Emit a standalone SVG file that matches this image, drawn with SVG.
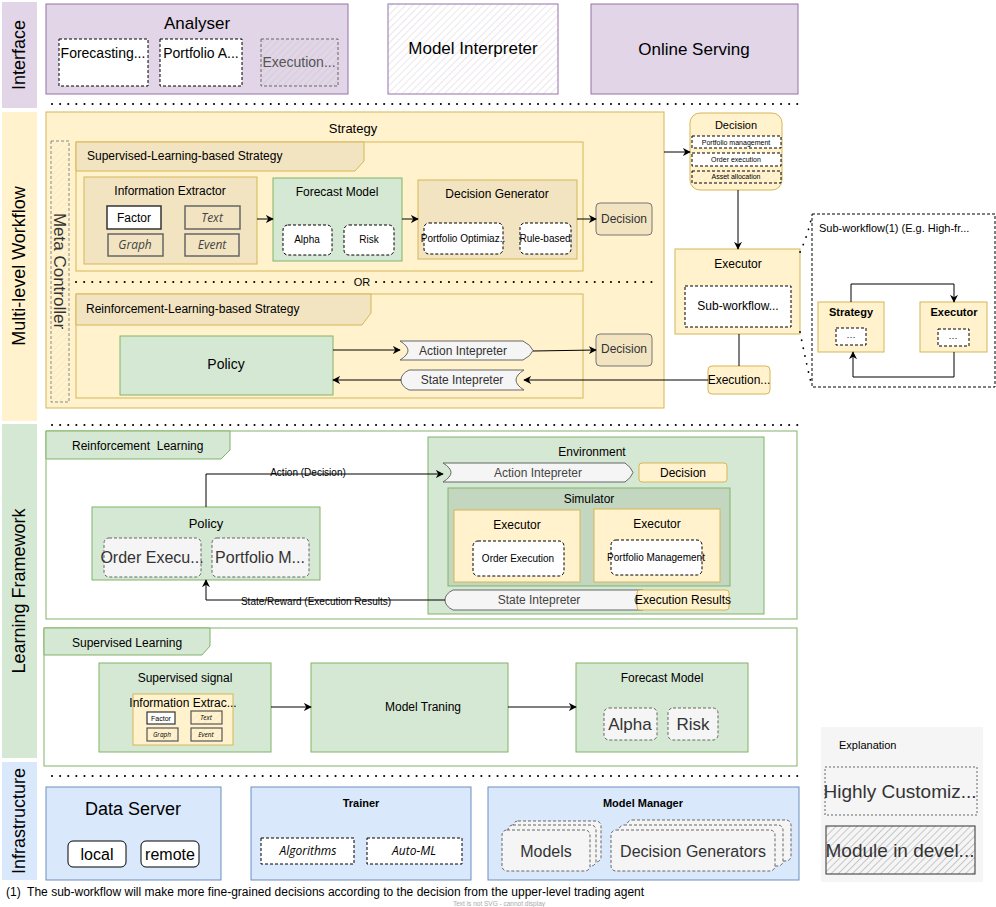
<svg xmlns="http://www.w3.org/2000/svg" width="996" height="907" viewBox="0 0 996 907">
<defs>
<pattern id="hatch" width="5" height="5" patternUnits="userSpaceOnUse" patternTransform="rotate(45)">
<line x1="0" y1="0" x2="0" y2="5" stroke="#c8c8c8" stroke-width="1"/>
</pattern>
<pattern id="hatchP" width="5" height="5" patternUnits="userSpaceOnUse" patternTransform="rotate(45)">
<line x1="0" y1="0" x2="0" y2="5" stroke="#d8d0dc" stroke-width="1"/>
</pattern>
<pattern id="hatchY" width="5" height="5" patternUnits="userSpaceOnUse" patternTransform="rotate(45)">
<line x1="0" y1="0" x2="0" y2="5" stroke="#f3e6c8" stroke-width="1.2"/>
</pattern>
<pattern id="hatchD" width="5" height="5" patternUnits="userSpaceOnUse" patternTransform="rotate(45)">
<line x1="0" y1="0" x2="0" y2="5" stroke="#999" stroke-width="1"/>
</pattern>
<marker id="arr" viewBox="0 0 10 10" refX="9" refY="5" markerWidth="8" markerHeight="8" orient="auto" markerUnits="userSpaceOnUse">
<path d="M0,0 L10,5 L0,10 L3,5 Z" fill="#000"/>
</marker>
</defs>
<style>
text{font-family:"Liberation Sans",Arial,sans-serif;fill:#000}
.c{text-anchor:middle}
.pur{fill:#e1d5e7;stroke:#9673a6}
.yel{fill:#fff2cc;stroke:#d6b656}
.yd{fill:#f2e4c0;stroke:#d6b656}
.grn{fill:#d5e8d4;stroke:#82b366}
.blu{fill:#dae8fc;stroke:#6c8ebf}
.dw{fill:#fff;stroke:#000;stroke-dasharray:3 2}
.dg{fill:#f5f5f5;stroke:#666;stroke-dasharray:3 2}
.it{font-family:"Open Sans","DejaVu Sans",sans-serif;font-style:italic}
.dot{stroke:#000;stroke-width:2;stroke-dasharray:0.1 8;stroke-linecap:round;fill:none}
.ln{stroke:#000;stroke-width:1;fill:none}
.interp{fill:#f5f5f5;stroke:#666}
</style>

<!-- layer bars -->
<g id="layers">
<rect x="2" y="2" width="35" height="106" fill="#e1d5e7"/>
<rect x="2" y="112" width="35" height="309" fill="#fff2cc"/>
<rect x="2" y="424" width="35" height="334" fill="#d5e8d4"/>
<rect x="2" y="762" width="35" height="118" fill="#dae8fc"/>
<text class="c" font-size="18" transform="translate(25,55) rotate(-90)">Interface</text>
<text class="c" font-size="18" transform="translate(25,266) rotate(-90)">Multi-level Workflow</text>
<text class="c" font-size="18" transform="translate(25,591) rotate(-90)">Learning Framework</text>
<text class="c" font-size="18" transform="translate(25,821) rotate(-90)">Infrastructure</text>
</g>

<g id="separators">
<line class="dot" x1="52" y1="104" x2="798" y2="104"/>
<line class="dot" x1="52" y1="425" x2="798" y2="425"/>
<line class="dot" x1="52" y1="776" x2="798" y2="776"/>
</g>

<!-- Interface -->
<g id="analyser">
<rect class="pur" x="46" y="4" width="302" height="90"/>
<text class="c" x="197" y="29" font-size="17">Analyser</text>
<rect class="dw" x="59" y="39" width="89" height="47"/>
<text class="c" x="103" y="58" font-size="14">Forecasting...</text>
<rect class="dw" x="160" y="39" width="82" height="47"/>
<text class="c" x="201" y="58" font-size="14">Portfolio A...</text>
<rect x="261" y="39" width="77" height="47" fill="url(#hatch)" stroke="#666" stroke-dasharray="3 2"/>
<text class="c" x="299" y="67" font-size="14" style="fill:#555">Execution...</text>
</g>
<g id="model-interpreter">
<rect x="388" y="4" width="170" height="90" fill="url(#hatchP)" stroke="#9673a6"/>
<text class="c" x="473" y="54" font-size="17">Model Interpreter</text>
</g>
<g id="online-serving">
<rect class="pur" x="591" y="4" width="207" height="90"/>
<text class="c" x="694" y="55" font-size="17">Online Serving</text>
</g>

<!-- Strategy -->
<g id="strategy">
<rect class="yel" x="46" y="112" width="618" height="296"/>
<text class="c" x="353" y="133" font-size="13">Strategy</text>
</g>
<g id="or-separator">
<line class="dot" x1="76" y1="282" x2="350" y2="282"/>
<line class="dot" x1="376" y1="282" x2="656" y2="282"/>
<text class="c" x="362" y="286" font-size="11">OR</text>
</g>
<g id="meta-controller">
<rect x="51" y="141" width="18" height="261" fill="url(#hatchY)" stroke="#888" stroke-dasharray="3 2"/>
<text class="c" font-size="17" style="fill:#333" transform="translate(54,271) rotate(90)">Meta Controller</text>
</g>
<g id="sl-strategy">
<rect class="yel" x="76" y="142" width="507" height="129"/>
<path d="M76,142 H364 V161 L355,171 H76 Z" fill="#f2e4c0" stroke="#d6b656"/>
<text x="87" y="160" font-size="12">Supervised-Learning-based Strategy</text>
</g>
<g id="info-extractor">
<rect class="yd" x="84" y="177" width="173" height="87"/>
<text class="c" x="170" y="195" font-size="12">Information Extractor</text>
<rect x="107" y="206" width="54" height="23" fill="#fff" stroke="#333" stroke-width="1.5"/>
<text class="c" x="134" y="222" font-size="12">Factor</text>
<rect x="185" y="206" width="55" height="23" fill="url(#hatchY)" stroke="#666" stroke-width="1.5"/>
<text class="c it" x="212" y="222" font-size="12" style="fill:#444">Text</text>
<rect x="108" y="234" width="55" height="22" fill="url(#hatchY)" stroke="#666" stroke-width="1.5"/>
<text class="c it" x="135" y="249" font-size="12" style="fill:#444">Graph</text>
<rect x="185" y="234" width="54" height="22" fill="url(#hatchY)" stroke="#666" stroke-width="1.5"/>
<text class="c it" x="212" y="249" font-size="12" style="fill:#444">Event</text>
</g>
<g id="forecast-model">
<rect class="grn" x="273" y="178" width="129" height="83"/>
<text class="c" x="337" y="196" font-size="12">Forecast Model</text>
<rect class="dw" x="283" y="225" width="49" height="30" rx="5"/>
<text class="c" x="307" y="243" font-size="10">Alpha</text>
<rect class="dw" x="344" y="225" width="50" height="30" rx="5"/>
<text class="c" x="369" y="243" font-size="10">Risk</text>
</g>
<g id="decision-generator">
<rect class="yd" x="418" y="180" width="159" height="79"/>
<text class="c" x="497" y="198" font-size="12">Decision Generator</text>
<rect class="dw" x="424" y="223" width="79" height="31" rx="5"/>
<text class="c" x="463" y="242" font-size="10">Portfolio Optimiaz..</text>
<rect class="dw" x="520" y="223" width="51" height="31" rx="5"/>
<text class="c" x="545" y="242" font-size="10">Rule-based</text>
</g>
<g id="decision-sl">
<rect x="596" y="203" width="56" height="32" rx="4" fill="#f2e4c0" stroke="#777"/>
<text class="c" x="624" y="223" font-size="12" style="fill:#333">Decision</text>
</g>

<g id="rl-strategy">
<rect class="yel" x="76" y="294" width="507" height="104"/>
<path d="M76,294 H371 V313 L362,325 H76 Z" fill="#f2e4c0" stroke="#d6b656"/>
<text x="86" y="313" font-size="12">Reinforcement-Learning-based Strategy</text>
</g>
<g id="policy-rl">
<rect class="grn" x="120" y="336" width="213" height="59"/>
<text class="c" x="226" y="369" font-size="14">Policy</text>
</g>
<g id="action-interp-rl">
<path class="interp" d="M400,341 H523 Q531,345 533,350.5 Q531,356 523,360 H400 Q408,355 408,350.5 Q408,346 400,341 Z"/>
<text class="c" x="463" y="355" font-size="12" style="fill:#333">Action Intepreter</text>
</g>
<g id="state-interp-rl">
<path class="interp" d="M409,370 H524 Q516,375 516,380 Q516,385 524,390 H409 Q401,386 401,380 Q401,374 409,370 Z"/>
<text class="c" x="462" y="384" font-size="12" style="fill:#333">State Intepreter</text>
</g>
<g id="decision-rl">
<rect x="596" y="334" width="56" height="32" rx="4" fill="#f2e4c0" stroke="#777"/>
<text class="c" x="624" y="353" font-size="12" style="fill:#333">Decision</text>
</g>

<g id="decision-top">
<rect class="yel" x="690" y="113" width="92" height="77" rx="10"/>
<text class="c" x="736" y="129" font-size="11">Decision</text>
<rect class="dw" x="692" y="136" width="89" height="12"/>
<text class="c" x="736" y="145" font-size="7">Portfolio management</text>
<rect class="dw" x="692" y="153" width="89" height="13"/>
<text class="c" x="736" y="162" font-size="7">Order execution</text>
<rect x="692" y="171" width="89" height="12" fill="url(#hatchY)" stroke="#000" stroke-dasharray="3 2"/>
<text class="c" x="736" y="179" font-size="7">Asset allocation</text>
</g>
<g id="executor-top">
<rect class="yel" x="675" y="249" width="125" height="85"/>
<text class="c" x="738" y="268" font-size="12">Executor</text>
<rect class="dw" x="685" y="286" width="106" height="41"/>
<text class="c" x="738" y="310" font-size="12">Sub-workflow...</text>
</g>
<g id="execution-top">
<rect class="yel" x="708" y="366" width="62" height="28" rx="4"/>
<text class="c" x="739" y="384" font-size="12">Execution...</text>
</g>

<g id="sub-workflow">
<rect x="812" y="214" width="183" height="173" fill="#fff" stroke="#000" stroke-dasharray="3 2"/>
<text x="819" y="232" font-size="11">Sub-workflow(1) (E.g. High-fr...</text>
<rect class="yel" x="818" y="302" width="66" height="50"/>
<text class="c" x="851" y="316" font-size="11" font-weight="bold">Strategy</text>
<rect class="dw" x="836" y="328" width="30" height="17"/>
<text class="c" x="851" y="340" font-size="9">···</text>
<rect class="yel" x="920" y="302" width="67" height="50"/>
<text class="c" x="954" y="316" font-size="11" font-weight="bold">Executor</text>
<rect class="dw" x="938" y="329" width="31" height="17"/>
<text class="c" x="953" y="341" font-size="9">···</text>
</g>

<!-- Learning framework -->
<g id="rl-frame">
<rect x="46" y="431" width="751" height="188" fill="#fff" stroke="#82b366"/>
<path d="M46,431 H230 V450 L221,459 H46 Z" fill="#d5e8d4" stroke="#82b366"/>
<text x="72" y="450" font-size="12" xml:space="preserve">Reinforcement  Learning</text>
</g>
<g id="policy-lf">
<rect class="grn" x="92" y="507" width="228" height="73"/>
<text class="c" x="206" y="528" font-size="13">Policy</text>
<rect class="dg" x="104" y="538" width="97" height="39" rx="5"/>
<text class="c" x="152" y="563" font-size="16" style="fill:#333">Order Execu...</text>
<rect class="dg" x="212" y="538" width="97" height="39" rx="5"/>
<text class="c" x="260" y="563" font-size="16" style="fill:#333">Portfolio M...</text>
</g>
<g id="environment">
<rect class="grn" x="428" y="437" width="336" height="177"/>
<text class="c" x="592" y="456" font-size="12">Environment</text>
<path class="interp" d="M443,463 H625 Q631,467 633,472.5 Q631,478 625,482 H443 Q451,477 451,472.5 Q451,468 443,463 Z"/>
<text class="c" x="538" y="477" font-size="12" style="fill:#444">Action Intepreter</text>
<rect class="yel" x="639" y="463" width="88" height="19" rx="3"/>
<text class="c" x="683" y="477" font-size="12">Decision</text>
<rect x="448" y="488" width="282" height="98" fill="#c3d7c0" stroke="#82b366"/>
<text class="c" x="589" y="503" font-size="12">Simulator</text>
<rect class="yel" x="454" y="510" width="126" height="72"/>
<text class="c" x="517" y="529" font-size="12">Executor</text>
<rect class="dw" x="473" y="541" width="91" height="35" rx="5"/>
<text class="c" x="518" y="562" font-size="10">Order Execution</text>
<rect class="yel" x="594" y="509" width="126" height="73"/>
<text class="c" x="657" y="528" font-size="12">Executor</text>
<rect class="dw" x="611" y="540" width="91" height="35" rx="5"/>
<text class="c" x="656" y="561" font-size="10">Portfolio Management</text>
<path class="interp" d="M453,590 H643 Q635,595 635,600 Q635,605 643,610 H453 Q445,606 445,600 Q445,594 453,590 Z"/>
<text class="c" x="539" y="604" font-size="12" style="fill:#444">State Intepreter</text>
<rect class="yel" x="637" y="590" width="92" height="20" rx="3"/>
<text class="c" x="683" y="604" font-size="12">Execution Results</text>
</g>

<g id="sl-frame">
<rect x="44" y="628" width="753" height="138" fill="#fff" stroke="#82b366"/>
<path d="M44,628 H210 V646 L202,655 H44 Z" fill="#d5e8d4" stroke="#82b366"/>
<text x="72" y="647" font-size="12">Supervised Learning</text>
</g>
<g id="supervised-signal">
<rect class="grn" x="99" y="663" width="172" height="89"/>
<text class="c" x="185" y="682" font-size="12">Supervised signal</text>
<rect class="yel" x="133" y="694" width="100" height="51"/>
<text class="c" x="183" y="707" font-size="12">Information Extrac...</text>
<rect x="147" y="712" width="28" height="12" fill="#fff" stroke="#333" stroke-width="1.2"/>
<text class="c" x="161" y="721" font-size="7">Factor</text>
<rect x="191" y="711" width="31" height="13" fill="url(#hatchY)" stroke="#555" stroke-width="1.2"/>
<text class="c it" x="206" y="720" font-size="6.5">Text</text>
<rect x="147" y="728" width="31" height="13" fill="url(#hatchY)" stroke="#555" stroke-width="1.2"/>
<text class="c it" x="162" y="737" font-size="6.5">Graph</text>
<rect x="191" y="728" width="31" height="13" fill="url(#hatchY)" stroke="#555" stroke-width="1.2"/>
<text class="c it" x="206" y="737" font-size="6.5">Event</text>
</g>
<g id="model-training">
<rect class="grn" x="311" y="663" width="197" height="89"/>
<text class="c" x="423" y="711" font-size="12">Model Traning</text>
</g>
<g id="forecast-model-sl">
<rect class="grn" x="576" y="663" width="172" height="89"/>
<text class="c" x="662" y="682" font-size="12">Forecast Model</text>
<rect class="dg" x="604" y="708" width="53" height="32" rx="5"/>
<text class="c" x="630" y="730" font-size="17" style="fill:#333">Alpha</text>
<rect class="dg" x="668" y="708" width="50" height="32" rx="5"/>
<text class="c" x="693" y="730" font-size="17" style="fill:#333">Risk</text>
</g>

<!-- Infrastructure -->
<g id="data-server">
<rect class="blu" x="46" y="787" width="175" height="93"/>
<text class="c" x="133" y="815" font-size="18">Data Server</text>
<rect x="68" y="841" width="58" height="26" rx="5" fill="#fff" stroke="#000"/>
<text class="c" x="97" y="860" font-size="16">local</text>
<rect x="141" y="841" width="58" height="26" rx="5" fill="#fff" stroke="#000"/>
<text class="c" x="170" y="860" font-size="16">remote</text>
</g>
<g id="trainer">
<rect class="blu" x="251" y="787" width="220" height="93"/>
<text class="c" x="361" y="807" font-size="11" font-weight="bold">Trainer</text>
<rect class="dw" x="261" y="838" width="93" height="26"/>
<text class="c it" x="308" y="855" font-size="12">Algorithms</text>
<rect class="dw" x="367" y="838" width="95" height="26"/>
<text class="c it" x="414" y="855" font-size="12">Auto-ML</text>
</g>
<g id="model-manager">
<rect class="blu" x="488" y="787" width="311" height="93"/>
<text class="c" x="643" y="807" font-size="11" font-weight="bold">Model Manager</text>
<rect class="dg" x="513" y="821" width="88" height="41" rx="5"/>
<rect class="dg" x="508" y="825" width="88" height="41" rx="5"/>
<rect class="dg" x="502" y="830" width="88" height="41" rx="5"/>
<text class="c" x="546" y="857" font-size="16" style="fill:#333">Models</text>
<rect class="dg" x="627" y="820" width="164" height="41" rx="5"/>
<rect class="dg" x="619" y="825" width="164" height="41" rx="5"/>
<rect class="dg" x="611" y="830" width="164" height="41" rx="5"/>
<text class="c" x="693" y="857" font-size="16" style="fill:#333">Decision Generators</text>
</g>
<g id="explanation">
<rect x="821" y="727" width="162" height="155" fill="#f5f5f5"/>
<text x="839" y="749" font-size="11">Explanation</text>
<rect x="825" y="767" width="152" height="48" fill="none" stroke="#666" stroke-dasharray="2 2"/>
<text class="c" x="900" y="798" font-size="19" style="fill:#333">Highly Customiz...</text>
<rect x="826" y="826" width="149" height="48" fill="url(#hatchD)" stroke="#333"/>
<text class="c" x="900" y="857" font-size="19" style="fill:#333">Module in devel...</text>
</g>

<g id="footnote">
<text x="6" y="896" font-size="12" xml:space="preserve">(1)  The sub-workflow will make more fine-grained decisions according to the decision from the upper-level trading agent</text>
<text class="c" x="499" y="906" font-size="6.5" style="fill:#aaa">Text is not SVG - cannot display</text>
</g>

<!-- Connectors -->
<g id="connectors">
<line class="ln" x1="257" y1="219" x2="273" y2="219" marker-end="url(#arr)"/>
<line class="ln" x1="402" y1="219" x2="418" y2="219" marker-end="url(#arr)"/>
<line class="ln" x1="577" y1="219" x2="596" y2="219" marker-end="url(#arr)"/>
<line class="ln" x1="333" y1="350" x2="400" y2="350" marker-end="url(#arr)"/>
<line class="ln" x1="533" y1="351" x2="596" y2="350" marker-end="url(#arr)"/>
<line class="ln" x1="708" y1="380" x2="524" y2="380" marker-end="url(#arr)"/>
<line class="ln" x1="401" y1="380" x2="333" y2="380" marker-end="url(#arr)"/>
<line class="ln" x1="739" y1="334" x2="739" y2="366"/>
<line class="ln" x1="664" y1="152" x2="690" y2="152" marker-end="url(#arr)"/>
<line class="ln" x1="738" y1="190" x2="738" y2="249" marker-end="url(#arr)"/>
<path class="dot" style="stroke-width:1.8" d="M800,252 Q808,235 812,215"/>
<path class="dot" style="stroke-width:1.8" d="M800,332 Q806,362 812,387"/>
<path class="ln" d="M851,302 V284 H954 V302" marker-end="url(#arr)"/>
<path class="ln" d="M954,352 V377 H853 V352" marker-end="url(#arr)"/>
<path class="ln" d="M206,507 V474 H443" marker-end="url(#arr)"/>
<path class="ln" d="M445,600 H206 V580" marker-end="url(#arr)"/>
<line class="ln" x1="271" y1="707" x2="311" y2="707" marker-end="url(#arr)"/>
<line class="ln" x1="508" y1="707" x2="576" y2="707" marker-end="url(#arr)"/>
<text class="c" x="308" y="476" font-size="10">Action (Decision)</text>
<text class="c" x="316" y="605" font-size="10">State/Reward (Execution Results)</text>
</g>
</svg>
